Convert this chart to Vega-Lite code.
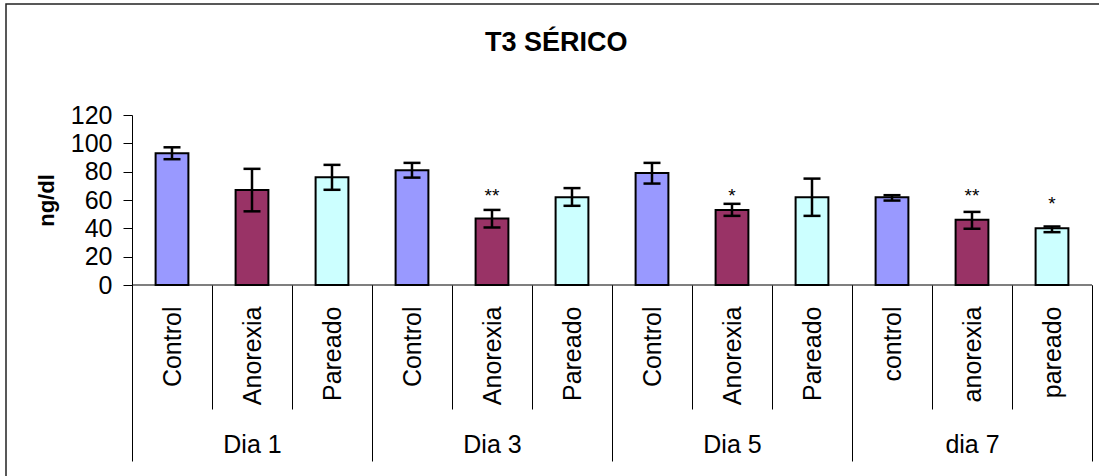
{
  "$schema": "https://vega.github.io/schema/vega-lite/v6.json",
  "autosize": {"type": "none"},
  "padding": {"left": 6, "top": 4, "right": -27, "bottom": -40},
  "width": 1120,
  "height": 512,
  "background": "white",
  "config": {
    "view": {"stroke": "#222222", "strokeWidth": 1.5},
    "font": "Liberation Sans",
    "axis": {"grid": false, "labelColor": "black", "titleColor": "black", "tickColor": "black", "domainColor": "black", "labelFont": "Liberation Sans", "titleFont": "Liberation Sans"}
  },
  "title": {
    "text": "T3 SÉRICO",
    "font": "Liberation Sans",
    "fontSize": 27,
    "fontWeight": "bold",
    "color": "black",
    "anchor": "start",
    "frame": "group",
    "baseline": "alphabetic",
    "offset": -43,
    "dx": 479,
    "dy": 31
  },
  "data": {
    "values": [
      {"key": "Dia 1|Control", "dia": "Dia 1", "grupo": "Control", "serie": "Control", "mean": 93, "lo": 88.8, "hi": 97.2, "sig": ""},
      {"key": "Dia 1|Anorexia", "dia": "Dia 1", "grupo": "Anorexia", "serie": "Anorexia", "mean": 67, "lo": 52, "hi": 82, "sig": ""},
      {"key": "Dia 1|Pareado", "dia": "Dia 1", "grupo": "Pareado", "serie": "Pareado", "mean": 76, "lo": 67.2, "hi": 84.8, "sig": ""},
      {"key": "Dia 3|Control", "dia": "Dia 3", "grupo": "Control", "serie": "Control", "mean": 81, "lo": 75.8, "hi": 86.2, "sig": ""},
      {"key": "Dia 3|Anorexia", "dia": "Dia 3", "grupo": "Anorexia", "serie": "Anorexia", "mean": 47, "lo": 40.6, "hi": 53, "sig": "**"},
      {"key": "Dia 3|Pareado", "dia": "Dia 3", "grupo": "Pareado", "serie": "Pareado", "mean": 62, "lo": 55.9, "hi": 68.4, "sig": ""},
      {"key": "Dia 5|Control", "dia": "Dia 5", "grupo": "Control", "serie": "Control", "mean": 79, "lo": 71.6, "hi": 86.2, "sig": ""},
      {"key": "Dia 5|Anorexia", "dia": "Dia 5", "grupo": "Anorexia", "serie": "Anorexia", "mean": 53, "lo": 48.8, "hi": 57.3, "sig": "*"},
      {"key": "Dia 5|Pareado", "dia": "Dia 5", "grupo": "Pareado", "serie": "Pareado", "mean": 62, "lo": 48.8, "hi": 75.1, "sig": ""},
      {"key": "dia 7|control", "dia": "dia 7", "grupo": "control", "serie": "Control", "mean": 62, "lo": 59.6, "hi": 63.4, "sig": ""},
      {"key": "dia 7|anorexia", "dia": "dia 7", "grupo": "anorexia", "serie": "Anorexia", "mean": 46, "lo": 39.7, "hi": 51.6, "sig": "**"},
      {"key": "dia 7|pareado", "dia": "dia 7", "grupo": "pareado", "serie": "Pareado", "mean": 40, "lo": 37.3, "hi": 41.3, "sig": "*"}
    ]
  },
  "layer": [
    {
      "encoding": {
        "x": {
          "field": "key",
          "type": "nominal",
          "sort": null,
          "scale": {"paddingInner": 0, "paddingOuter": 1, "align": 0.7875},
          "axis": {
            "orient": "bottom",
            "offset": -231,
            "title": null,
            "domain": false,
            "labelExpr": "split(datum.value, '|')[1]",
            "labelAngle": 270,
            "labelAlign": "right",
            "labelBaseline": "middle",
            "labelFontSize": 25,
            "labelPadding": -103,
            "labelOverlap": false,
            "tickSize": 124,
            "tickWidth": 1,
            "tickBand": "extent"
          }
        }
      },
      "layer": [
        {
          "mark": {"type": "tick", "color": "black", "size": 80, "thickness": 1.2, "opacity": 1},
          "encoding": {"y": {"datum": 0, "type": "quantitative"}}
        },
        {
          "mark": {"type": "bar", "width": {"band": 0.41}, "stroke": "black", "strokeWidth": 2},
          "encoding": {
            "y": {
              "field": "mean",
              "type": "quantitative",
              "scale": {"domain": [0, 120], "range": [281, 111], "nice": false, "zero": true},
              "axis": {
                "orient": "left",
                "offset": -126,
                "values": [0, 20, 40, 60, 80, 100, 120],
                "tickSize": 9,
                "labelPadding": 11,
                "labelFontSize": 25,
                "title": "ng/dl",
                "titleFontSize": 22,
                "titleFontWeight": "bold",
                "titlePadding": 12,
                "domainWidth": 1
              }
            },
            "color": {
              "field": "serie",
              "type": "nominal",
              "scale": {"domain": ["Control", "Anorexia", "Pareado"], "range": ["#9999FF", "#993366", "#CCFFFF"]},
              "legend": null
            }
          }
        },
        {
          "mark": {"type": "rule", "color": "black", "strokeWidth": 2.5},
          "encoding": {
            "y": {"field": "lo", "type": "quantitative"},
            "y2": {"field": "hi"}
          }
        },
        {
          "mark": {"type": "tick", "color": "black", "size": 17, "thickness": 2.5, "opacity": 1},
          "encoding": {"y": {"field": "lo", "type": "quantitative"}}
        },
        {
          "mark": {"type": "tick", "color": "black", "size": 17, "thickness": 2.5, "opacity": 1},
          "encoding": {"y": {"field": "hi", "type": "quantitative"}}
        },
        {
          "transform": [{"filter": "datum.sig != '' && datum.key != 'dia 7|pareado'"}],
          "mark": {"type": "text", "fontSize": 19, "baseline": "alphabetic", "align": "center", "color": "black", "font": "Liberation Sans"},
          "encoding": {"y": {"datum": 58.6}, "text": {"field": "sig"}}
        },
        {
          "transform": [{"filter": "datum.key == 'dia 7|pareado'"}],
          "mark": {"type": "text", "fontSize": 19, "baseline": "alphabetic", "align": "center", "color": "black", "font": "Liberation Sans"},
          "encoding": {"y": {"datum": 53}, "text": {"field": "sig"}}
        }
      ]
    },
    {
      "mark": {"type": "rule", "opacity": 0},
      "encoding": {
        "x": {
          "field": "dia",
          "type": "nominal",
          "sort": null,
          "scale": {"domain": ["Dia 1", "Dia 3", "Dia 5", "dia 7"], "paddingInner": 0, "paddingOuter": 0.333333, "align": 0.7875},
          "axis": {
            "orient": "bottom",
            "offset": -231,
            "title": null,
            "domain": false,
            "labelAngle": 0,
            "labelAlign": "center",
            "labelBaseline": "middle",
            "labelFontSize": 25,
            "labelPadding": -17,
            "tickSize": 176,
            "tickWidth": 1,
            "tickBand": "extent"
          }
        }
      }
    }
  ],
  "resolve": {"scale": {"x": "independent"}, "axis": {"x": "independent"}}
}
